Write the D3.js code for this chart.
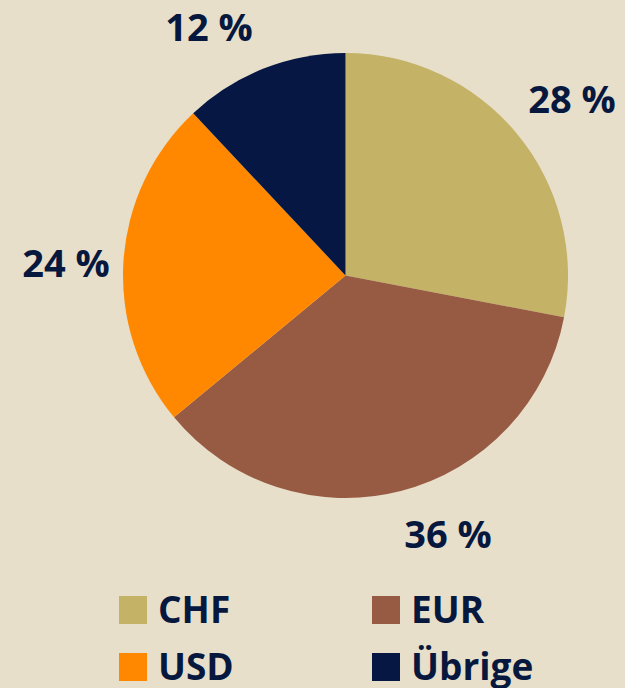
<!DOCTYPE html>
<html>
<head>
<meta charset="utf-8">
<script src="https://cdn.jsdelivr.net/npm/d3@7"></script>
<style>
  body { margin: 0; background: #e8dfcb; }
  svg { display: block; }
  text { font-family: "Open Sans", sans-serif; font-weight: 700; fill: #07183f; }
</style>
</head>
<body>
<div id="chart"></div>
<script>
// data
var categories = ["CHF", "EUR", "USD", "Übrige"];
var shares = [28, 36, 24, 12];
var labels = ["28 %", "36 %", "24 %", "12 %"];
var colors = ["#c4b266", "#975a42", "#ff8800", "#051742"];

// layout
var width = 625, height = 688;
var cx = 345.5, cy = 275.5, radius = 222.5;
// label centres, picked by eye
var labelXY = [[572, 99], [448, 534], [66, 263], [209, 27]];

var svg = d3.select("#chart").append("svg")
    .attr("width", width)
    .attr("height", height);

svg.append("rect")
    .attr("width", width)
    .attr("height", height)
    .attr("fill", "#e8dfcb");

var pie = d3.pie().sort(null).value(function(d) { return d; });
var arc = d3.arc().innerRadius(0).outerRadius(radius);

var g = svg.append("g")
    .attr("transform", "translate(" + cx + "," + cy + ")");

g.selectAll("path")
    .data(pie(shares))
    .enter()
    .append("path")
      .attr("d", arc)
      .attr("fill", function(d, i) { return colors[i]; });

// percent labels
svg.selectAll(".pct")
    .data(labels)
    .enter()
    .append("text")
      .attr("class", "pct")
      .attr("text-anchor", "middle")
      .attr("x", function(d, i) { return labelXY[i][0]; })
      .attr("y", function(d, i) { return labelXY[i][1] + 14; })
      .style("font-size", "38px")
      .text(function(d) { return d; });

// legend, 2 columns
var legend = svg.selectAll(".legend")
    .data(categories)
    .enter()
    .append("g")
      .attr("class", "legend")
      .attr("transform", function(d, i) {
        return "translate(" + (119 + (i % 2) * 253) + "," + (596 + Math.floor(i / 2) * 57) + ")";
      });

legend.append("rect")
    .attr("width", 28)
    .attr("height", 28)
    .attr("fill", function(d, i) { return colors[i]; });

legend.append("text")
    .attr("x", 39)
    .attr("y", 27)
    .style("font-size", "37px")
    .text(function(d) { return d; });
</script>
</body>
</html>
